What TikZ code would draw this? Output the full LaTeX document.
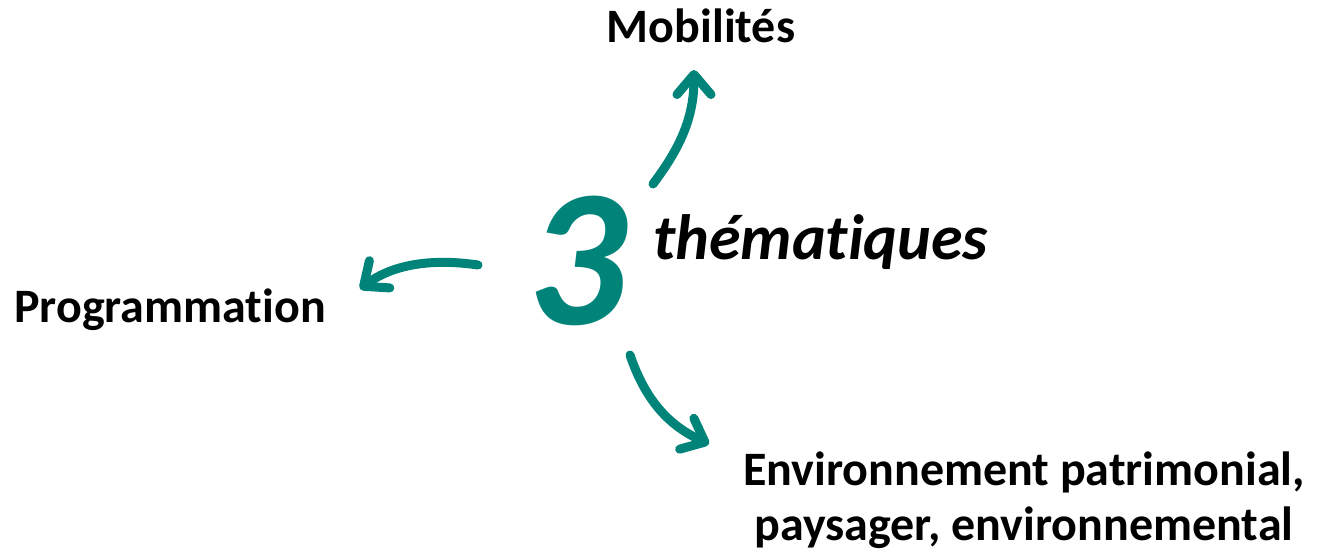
\documentclass[tikz,border=0pt]{standalone}
\usepackage{fontspec}
\setmainfont[RawFeature={-liga;-dlig}]{Carlito}
\usetikzlibrary{arrows.meta}
\definecolor{teal3}{RGB}{0,132,122}
\tikzset{
  lbl/.style={font=\bfseries\fontsize{48}{55}\selectfont, text=black, inner sep=0pt},
  conn/.style={draw=teal3, line width=9pt, line cap=round, -{Straight Barb[round, length=20pt, width=34pt]}}
}
\begin{document}
\begin{tikzpicture}[x=1pt,y=-1pt]
\useasboundingbox (0,0) rectangle (1320,552);
\node[lbl, anchor=base] (mob) at (701,42) {Mobilités};
\node[lbl, anchor=base west] (prog) at (14,322) {Programmation};
\node[lbl, align=center, anchor=base] (env) at (1024,540) {Environnement patrimonial,\\paysager, environnemental};
\node[font=\bfseries\itshape\fontsize{196}{196}\selectfont, text=teal3, inner sep=0pt, anchor=base west] (three) at (527,324) {3};
\node[font=\bfseries\itshape\fontsize{64}{64}\selectfont, inner sep=0pt, anchor=base west] (them) at (653,259) {thématiques};
\coordinate (s1) at (653,184);
\coordinate (t1) at (694,70);
\coordinate (s2) at (478,265);
\coordinate (t2) at (360,289);
\coordinate (s3) at (630,355);
\coordinate (t3) at (709,444);
\draw[conn] (s1) .. controls (680,148) and (694,118) .. (t1);
\draw[conn] (s2) .. controls (430,258) and (392,265) .. (t2);
\draw[conn] (s3) .. controls (646,402) and (670,426) .. (t3);
\end{tikzpicture}
\end{document}
